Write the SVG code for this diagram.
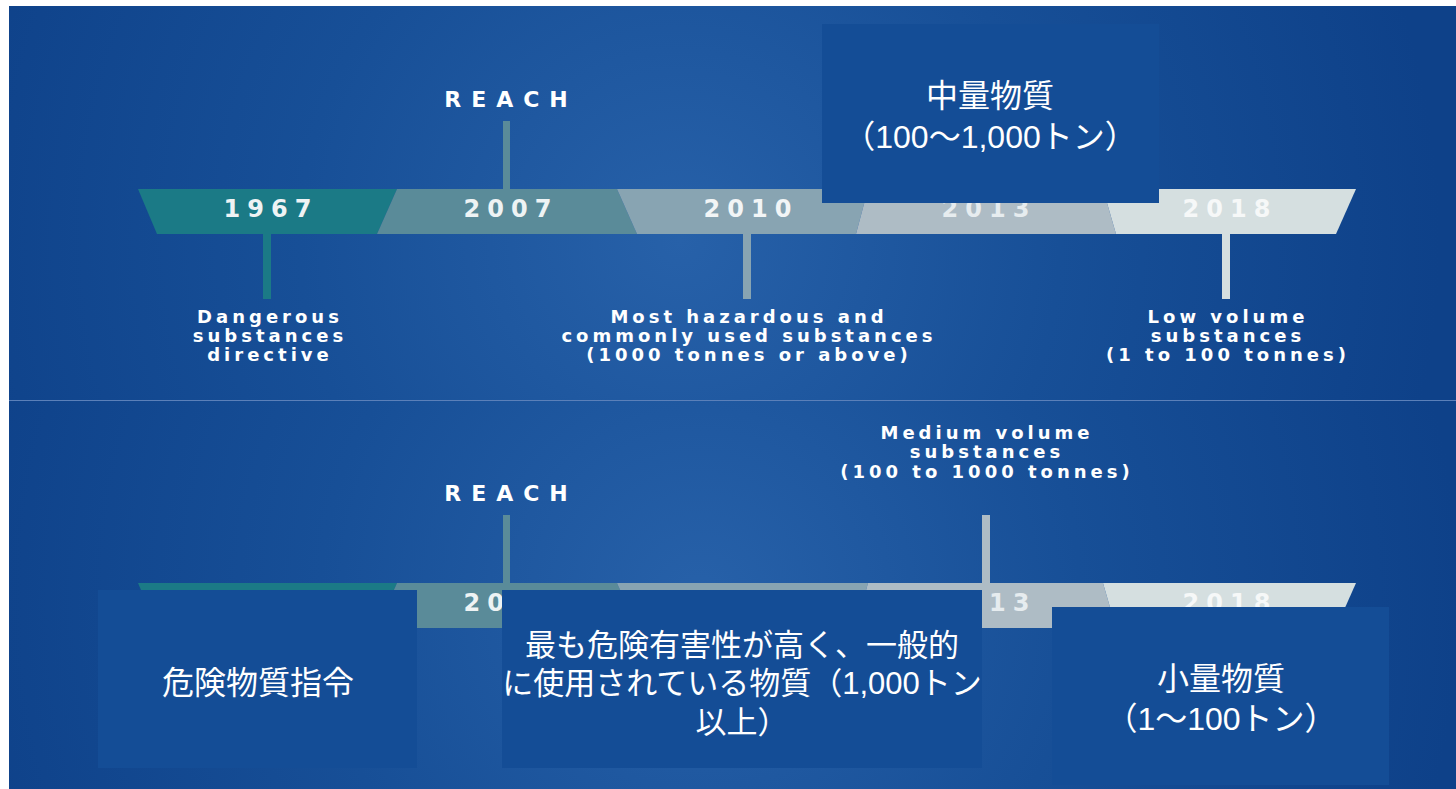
<svg xmlns="http://www.w3.org/2000/svg" width="1456" height="789" viewBox="0 0 1456 789">
<defs>
<radialGradient id="bgTop" cx="680" cy="240" r="760" gradientUnits="userSpaceOnUse">
<stop offset="0" stop-color="#2761a9"/>
<stop offset="0.5" stop-color="#174f97"/>
<stop offset="1" stop-color="#0e4189"/>
</radialGradient>
<radialGradient id="bgBot" cx="700" cy="600" r="760" gradientUnits="userSpaceOnUse">
<stop offset="0" stop-color="#2761a9"/>
<stop offset="0.5" stop-color="#174f97"/>
<stop offset="1" stop-color="#0e4189"/>
</radialGradient>
<style>
.yr{font-family:"DejaVu Sans",sans-serif;font-weight:bold;font-size:24px;letter-spacing:7px;text-anchor:middle}
.lbl{font-family:"DejaVu Sans",sans-serif;font-weight:bold;font-size:18px;letter-spacing:4px;fill:#ffffff;text-anchor:middle}
.reach{font-family:"DejaVu Sans",sans-serif;font-weight:bold;font-size:22px;letter-spacing:10px;fill:#ffffff;text-anchor:middle}
.jp{font-family:"Liberation Sans","Noto Sans CJK JP",sans-serif;font-size:32px;fill:#ffffff;text-anchor:middle}
.jps{font-size:31px}
.box{fill:#144d96}
.s1{fill:#1b7a86}.s2{fill:#5a8b99}.s3{fill:#88a4b2}.s4{fill:#aebcc5}.s5{fill:#d5dfe0}
</style>
</defs>
<rect x="0" y="0" width="1456" height="789" fill="#ffffff"/>
<rect x="9" y="6" width="1447" height="394" fill="url(#bgTop)"/>
<rect x="9" y="400" width="1447" height="389" fill="url(#bgBot)"/>
<line x1="9" y1="400.5" x2="1456" y2="400.5" stroke="#5b80b9" stroke-width="1.2"/>

<g id="timeline-top">
<polygon class="s1" points="138,189 397,189 377,234 157,234"/>
<polygon class="s2" points="397,189 617,189 637,234 377,234"/>
<polygon class="s3" points="617,189 868,189 856,234 637,234"/>
<polygon class="s4" points="868,189 1103,189 1116,234 856,234"/>
<polygon class="s5" points="1103,189 1356,189 1336,234 1116,234"/>
<text class="yr" x="271" y="217" fill="#eef3f4">1967</text>
<text class="yr" x="511" y="217" fill="#eef3f4">2007</text>
<text class="yr" x="751" y="217" fill="#f2f5f6">2010</text>
<text class="yr" x="989" y="217" fill="#e6ecef">2013</text>
<text class="yr" x="1230" y="217" fill="#f6f8f8">2018</text>
</g>
<g id="connectors-top">
<rect class="s1" x="263" y="234" width="8" height="65"/>
<rect class="s2" x="503" y="121" width="7" height="68"/>
<rect class="s3" x="743" y="234" width="8" height="65"/>
<rect class="s5" x="1222" y="234" width="8" height="65"/>
</g>
<g id="label-reach-top"><text class="reach" x="511" y="107">REACH</text></g>
<g id="label-1967"><text class="lbl" x="270" y="323">Dangerous</text><text class="lbl" x="270" y="342">substances</text><text class="lbl" x="270" y="361">directive</text></g>
<g id="label-2010"><text class="lbl" x="749" y="323">Most hazardous and</text><text class="lbl" x="749" y="342">commonly used substances</text><text class="lbl" x="749" y="361">(1000 tonnes or above)</text></g>
<g id="label-2018"><text class="lbl" x="1228" y="323">Low volume</text><text class="lbl" x="1228" y="342">substances</text><text class="lbl" x="1228" y="361">(1 to 100 tonnes)</text></g>
<g id="box-medium-jp">
<rect class="box" x="822" y="24" width="337" height="179"/>
<text class="jp" x="990" y="107">中量物質</text>
<text class="jp" x="990" y="148">（100〜1,000トン）</text>
</g>

<g id="timeline-bottom">
<polygon class="s1" points="138,583 397,583 377,628 157,628"/>
<polygon class="s2" points="397,583 617,583 637,628 377,628"/>
<polygon class="s3" points="617,583 868,583 856,628 637,628"/>
<polygon class="s4" points="868,583 1103,583 1116,628 856,628"/>
<polygon class="s5" points="1103,583 1356,583 1336,628 1116,628"/>
<text class="yr" x="271" y="611" fill="#eef3f4">1967</text>
<text class="yr" x="511" y="611" fill="#eef3f4">2007</text>
<text class="yr" x="751" y="611" fill="#f2f5f6">2010</text>
<text class="yr" x="989" y="611" fill="#e6ecef">2013</text>
<text class="yr" x="1230" y="611" fill="#f6f8f8">2018</text>
</g>
<g id="connectors-bottom">
<rect class="s2" x="503" y="515" width="7" height="68"/>
<rect class="s4" x="982" y="515" width="8" height="68"/>
</g>
<g id="label-reach-bottom"><text class="reach" x="511" y="501">REACH</text></g>
<g id="label-2013"><text class="lbl" x="987" y="439">Medium volume</text><text class="lbl" x="987" y="458">substances</text><text class="lbl" x="987" y="478">(100 to 1000 tonnes)</text></g>
<g id="box-dangerous-jp">
<rect class="box" x="98" y="590" width="319" height="178"/>
<text class="jp" x="258" y="694">危険物質指令</text>
</g>
<g id="box-hazardous-jp">
<rect class="box" x="502" y="590" width="480" height="178"/>
<text class="jp jps" x="742" y="656">最も危険有害性が高く、一般的</text>
<text class="jp jps" x="742" y="694">に使用されている物質（1,000トン</text>
<text class="jp jps" x="742" y="733">以上）</text>
</g>
<g id="box-low-jp">
<rect class="box" x="1052" y="607" width="337" height="178"/>
<text class="jp" x="1221" y="690">小量物質</text>
<text class="jp" x="1221" y="730">（1〜100トン）</text>
</g>
</svg>
